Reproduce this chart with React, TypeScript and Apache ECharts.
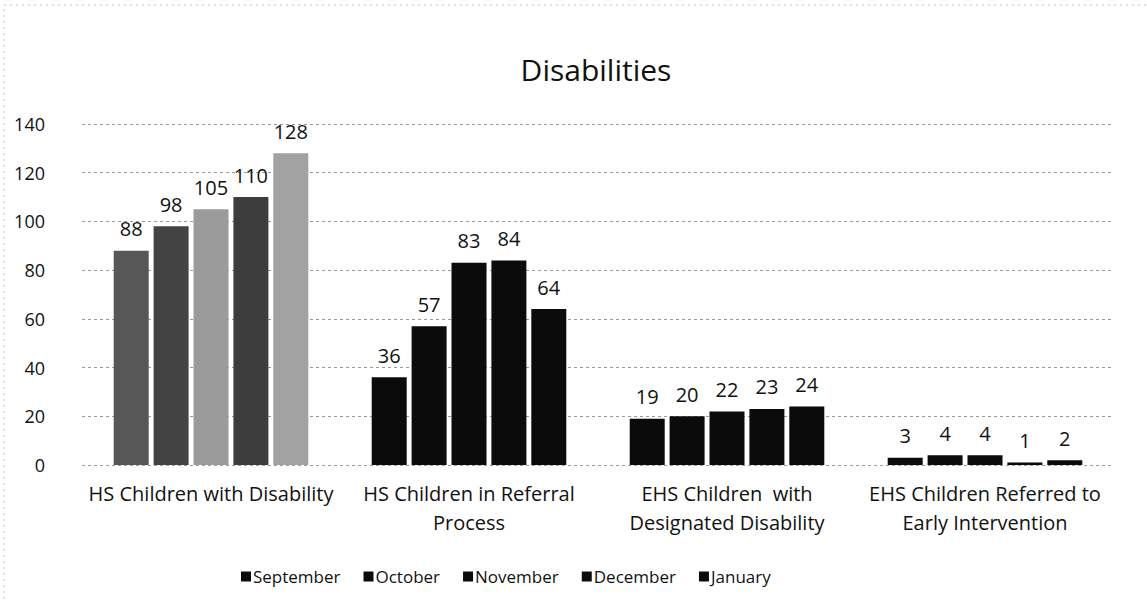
import React, { useEffect, useRef } from "react";
import * as echarts from "echarts";

const categories = [
  "HS Children with Disability",
  "HS Children in Referral\nProcess",
  "EHS Children  with\nDesignated Disability",
  "EHS Children Referred to\nEarly Intervention",
];
const months = ["September", "October", "November", "December", "January"];
const september = [88, 36, 19, 3];
const october = [98, 57, 20, 4];
const november = [105, 83, 22, 4];
const december = [110, 84, 23, 1];
const january = [128, 64, 24, 2];
const yTicks = [0, 20, 40, 60, 80, 100, 120, 140];

const firstGroupColors = ["#575757", "#434343", "#9b9b9b", "#3d3d3d", "#a2a2a2"];
const otherColor = "#0b0b0b";

export default function App() {
  const ref = useRef<HTMLDivElement>(null);
  useEffect(() => {
    if (!ref.current) return;
    const chart = echarts.init(ref.current, null, { renderer: "svg" });
    const all = [september, october, november, december, january];
    const font = "'Open Sans', 'Noto Sans', sans-serif";
    chart.setOption({
      animation: false,
      backgroundColor: "#ffffff",
      graphic: [
        {
          type: "rect",
          shape: { x: 4, y: 5, width: 1150, height: 620 },
          style: { fill: "none", stroke: "#c4c4c4", lineWidth: 1, lineDash: [2, 4] },
          silent: true,
        },
      ],
      title: {
        text: "Disabilities",
        left: 591,
        top: 49,
        textAlign: "center",
        textStyle: { fontFamily: font, fontSize: 30, fontWeight: "normal", color: "#111" },
      },
      legend: {
        data: months,
        bottom: 10,
        left: 236,
        itemWidth: 10,
        itemHeight: 10,
        itemGap: 23,
        icon: "rect",
        textStyle: { fontFamily: font, fontSize: 17, color: "#111", padding: [0, 0, 0, -3] },
      },
      grid: { left: 82, right: 33, top: 124, bottom: 135 },
      xAxis: {
        type: "category",
        data: categories,
        axisLine: { show: false },
        axisTick: { show: false },
        axisLabel: {
          fontFamily: font,
          fontSize: 20,
          color: "#111",
          margin: 14,
          lineHeight: 29,
          interval: 0,
        },
      },
      yAxis: {
        type: "value",
        min: yTicks[0],
        max: yTicks[yTicks.length - 1],
        interval: 20,
        axisLine: { show: false },
        axisTick: { show: false },
        axisLabel: { fontFamily: font, fontSize: 18, color: "#111", margin: 37 },
        splitLine: { lineStyle: { type: [3, 3], color: "#9a9a9a", width: 1 } },
      },
      series: months.map((m, si) => ({
        name: m,
        type: "bar",
        barWidth: 35,
        barGap: "14%",
        itemStyle: { color: otherColor },
        label: {
          show: true,
          position: "top",
          distance: 12,
          fontFamily: font,
          fontSize: 20,
          color: "#111",
        },
        data: all[si].map((v, ci) => ({
          value: v,
          itemStyle: { color: ci === 0 ? firstGroupColors[si] : otherColor },
        })),
      })),
    });
    return () => chart.dispose();
  }, []);
  return (
    <div
      ref={ref}
      style={{ position: "absolute", left: 0, top: 0, width: 1147, height: 600 }}
    />
  );
}
